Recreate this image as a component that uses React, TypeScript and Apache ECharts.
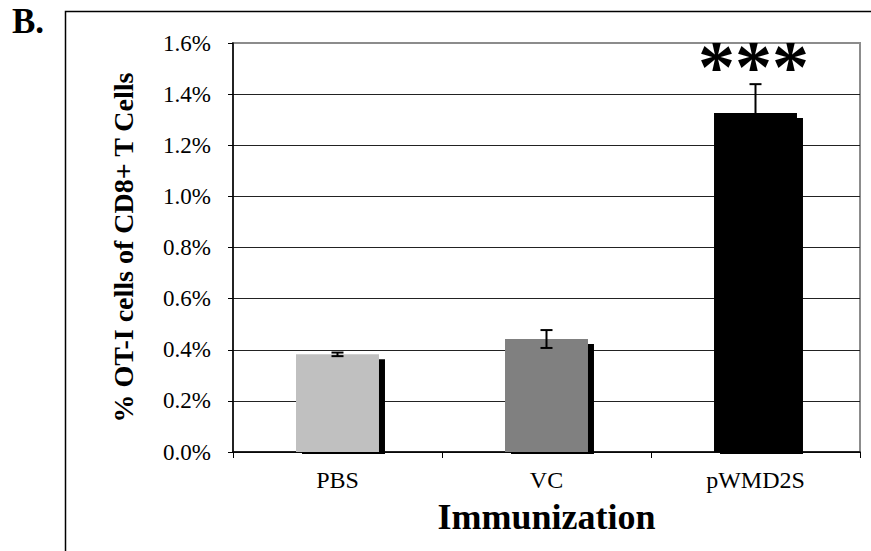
import React, { useEffect, useRef } from "react";
import * as echarts from "echarts";

const categories = ["PBS", "VC", "pWMD2S"];
const values = [0.382, 0.442, 1.326];
const errors = [0.007, 0.035, 0.113];
const significance = ["", "", "***"];
const barColors = ["#c0c0c0", "#808080", "#000000"];
const yTicks = { min: 0, max: 1.6, interval: 0.2 };

const FONT = "'Liberation Serif', 'Times New Roman', serif";

export default function App() {
  const ref = useRef<HTMLDivElement>(null);
  useEffect(() => {
    if (!ref.current) return;
    const chart = echarts.init(ref.current, undefined, { renderer: "svg" });
    const data = categories.map((c, i) => [i, values[i], errors[i]]);
    chart.setOption({
      animation: false,
      backgroundColor: "#ffffff",
      grid: {
        left: 233,
        top: 43,
        right: 11,
        bottom: 99,
        show: true,
        borderColor: "#8c8c8c",
        borderWidth: 2,
        backgroundColor: "transparent",
      },
      graphic: [
        {
          type: "rect",
          shape: { x: 65.5, y: 11.5, width: 900, height: 600 },
          style: { fill: "none", stroke: "#000", lineWidth: 1.5 },
          silent: true,
        },
        {
          type: "text",
          left: 12,
          top: 4,
          style: { text: "B.", font: `bold 35px ${FONT}`, fill: "#000" },
        },
      ],
      xAxis: {
        type: "category",
        data: categories,
        axisLine: { show: true, lineStyle: { color: "#000", width: 1.5 } },
        axisTick: { show: true, length: 6, lineStyle: { color: "#000" } },
        axisLabel: { color: "#000", fontFamily: FONT, fontSize: 24, margin: 16 },
        name: "Immunization",
        nameLocation: "middle",
        nameGap: 47,
        nameTextStyle: { color: "#000", fontFamily: FONT, fontSize: 36, fontWeight: "bold" },
      },
      yAxis: {
        type: "value",
        min: yTicks.min,
        max: yTicks.max,
        interval: yTicks.interval,
        axisLine: { show: true, lineStyle: { color: "#000", width: 1.5 } },
        axisTick: { show: true, length: 5, lineStyle: { color: "#000" } },
        axisLabel: {
          color: "#000",
          fontFamily: FONT,
          fontSize: 23,
          margin: 22,
          formatter: (v: number) => v.toFixed(1) + "%",
        },
        splitLine: { show: true, showMaxLine: false, lineStyle: { color: "#222", width: 1 } },
        name: "% OT-I cells of CD8+ T Cells",
        nameLocation: "middle",
        nameGap: 96,
        nameRotate: 90,
        nameTextStyle: { color: "#000", fontFamily: FONT, fontSize: 28, fontWeight: "bold" },
      },
      series: [
        {
          type: "custom",
          data,
          encode: { x: 0, y: 1 },
          z: 5,
          renderItem: (params: any, api: any) => {
            const idx = api.value(0);
            const v = api.value(1);
            const e = api.value(2);
            const [cx, yTop] = api.coord([idx, v]);
            const yBase = api.coord([idx, 0])[1];
            const band = api.size([1, 0])[0];
            const bw = band * 0.397;
            const x0 = cx - bw / 2;
            const yErrT = api.coord([idx, v + e])[1];
            const yErrB = api.coord([idx, v - e])[1];
            const cap = 6;
            const children: any[] = [
              {
                type: "rect",
                shape: { x: x0 + 6, y: yTop + 5, width: bw, height: yBase - yTop - 5 + 2 },
                style: { fill: "#000" },
              },
              {
                type: "rect",
                shape: { x: x0, y: yTop, width: bw, height: yBase - yTop },
                style: { fill: barColors[idx] },
              },
              {
                type: "line",
                shape: { x1: cx, y1: yErrT, x2: cx, y2: yErrB },
                style: { stroke: "#000", lineWidth: 2 },
              },
              {
                type: "line",
                shape: { x1: cx - cap, y1: yErrT, x2: cx + cap, y2: yErrT },
                style: { stroke: "#000", lineWidth: 2 },
              },
              {
                type: "line",
                shape: { x1: cx - cap, y1: yErrB, x2: cx + cap, y2: yErrB },
                style: { stroke: "#000", lineWidth: 2 },
              },
            ];
            const sig = significance[params.dataIndex];
            if (sig) {
              children.push({
                type: "text",
                x: cx - 2,
                y: yErrT - 54,
                style: {
                  text: sig,
                  font: `bold 74px ${FONT}`,
                  fill: "#000",
                  align: "center",
                  verticalAlign: "top",
                },
              });
            }
            return { type: "group", children };
          },
        },
      ],
    });
    return () => chart.dispose();
  }, []);
  return (
    <div
      ref={ref}
      style={{ position: "fixed", left: 0, top: 0, width: 871, height: 551 }}
    />
  );
}
